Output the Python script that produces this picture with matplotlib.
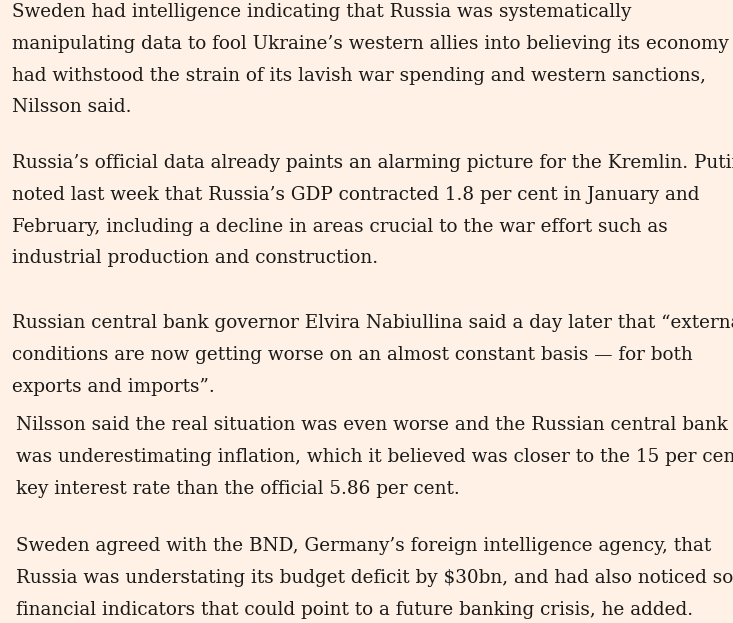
import matplotlib
matplotlib.use("Agg")
import matplotlib.pyplot as plt

paragraphs = [
    ["Sweden had intelligence indicating that Russia was systematically",
     "manipulating data to fool Ukraine\u2019s western allies into believing its economy",
     "had withstood the strain of its lavish war spending and western sanctions,",
     "Nilsson said."],
    ["Russia\u2019s official data already paints an alarming picture for the Kremlin. Putin",
     "noted last week that Russia\u2019s GDP contracted 1.8 per cent in January and",
     "February, including a decline in areas crucial to the war effort such as",
     "industrial production and construction."],
    ["Russian central bank governor Elvira Nabiullina said a day later that \u201cexternal",
     "conditions are now getting worse on an almost constant basis \u2014 for both",
     "exports and imports\u201d."],
    ["Nilsson said the real situation was even worse and the Russian central bank",
     "was underestimating inflation, which it believed was closer to the 15 per cent",
     "key interest rate than the official 5.86 per cent."],
    ["Sweden agreed with the BND, Germany\u2019s foreign intelligence agency, that",
     "Russia was understating its budget deficit by $30bn, and had also noticed some",
     "financial indicators that could point to a future banking crisis, he added."],
]
para_tops = [12, 163, 323, 425, 546]
para_x = [12, 12, 12, 16, 16]
line_step = 31.8

W, H = 733, 623
fig = plt.figure(figsize=(W/100, H/100), dpi=100)
fig.patch.set_facecolor("#FFF1E5")
for lines, top, x in zip(paragraphs, para_tops, para_x):
    for i, ln in enumerate(lines):
        y = top + i*line_step
        fig.text(x/W, 1 - y/H, ln, ha="left", va="center",
                 fontsize=13.2, family="DejaVu Serif", color="#1a1a1a")
fig.savefig("out.png", dpi=100, facecolor=fig.get_facecolor())
